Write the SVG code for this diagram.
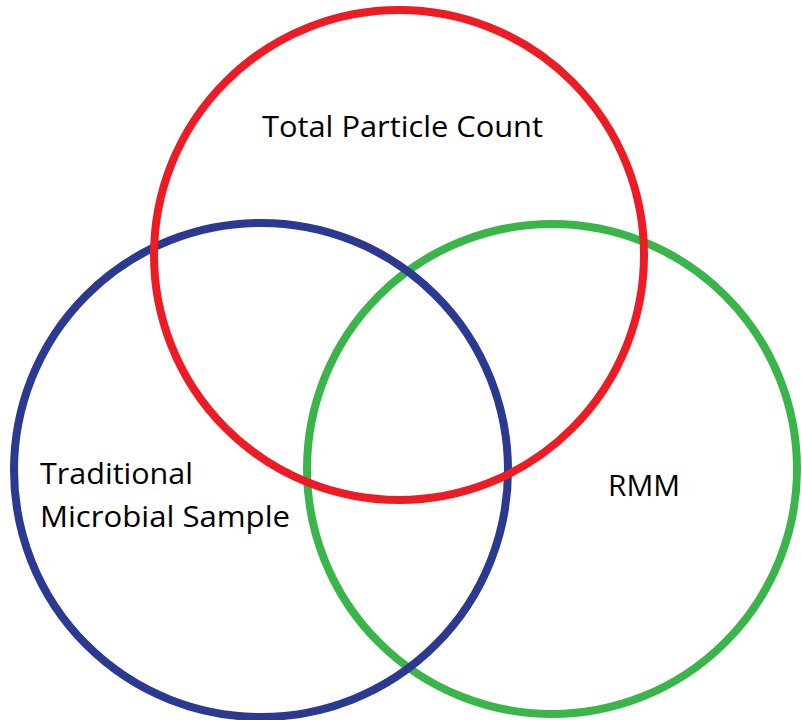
<svg xmlns="http://www.w3.org/2000/svg" width="802" height="720" viewBox="0 0 802 720">
<style>
.c{fill:none;stroke-width:8}
.t{font-family:"Open Sans","Liberation Sans",sans-serif;font-size:30px;fill:#000}
</style>
<rect width="802" height="720" fill="#fff"/>
<g id="rmm"><circle class="c" cx="552" cy="469" r="245" stroke="#39B54A"/><text class="t" x="608" y="496" textLength="72" lengthAdjust="spacingAndGlyphs">RMM</text></g>
<g id="traditional"><circle class="c" cx="261" cy="470" r="247" stroke="#2B3990"/><text class="t" x="40" y="484" textLength="153" lengthAdjust="spacingAndGlyphs">Traditional</text><text class="t" x="40" y="527" textLength="250" lengthAdjust="spacingAndGlyphs">Microbial Sample</text></g>
<g id="tpc"><circle class="c" cx="399" cy="255" r="245" stroke="#ED1C24"/><text class="t" x="262" y="137" textLength="281" lengthAdjust="spacingAndGlyphs">Total Particle Count</text></g>
<g id="connectors"></g>
</svg>
